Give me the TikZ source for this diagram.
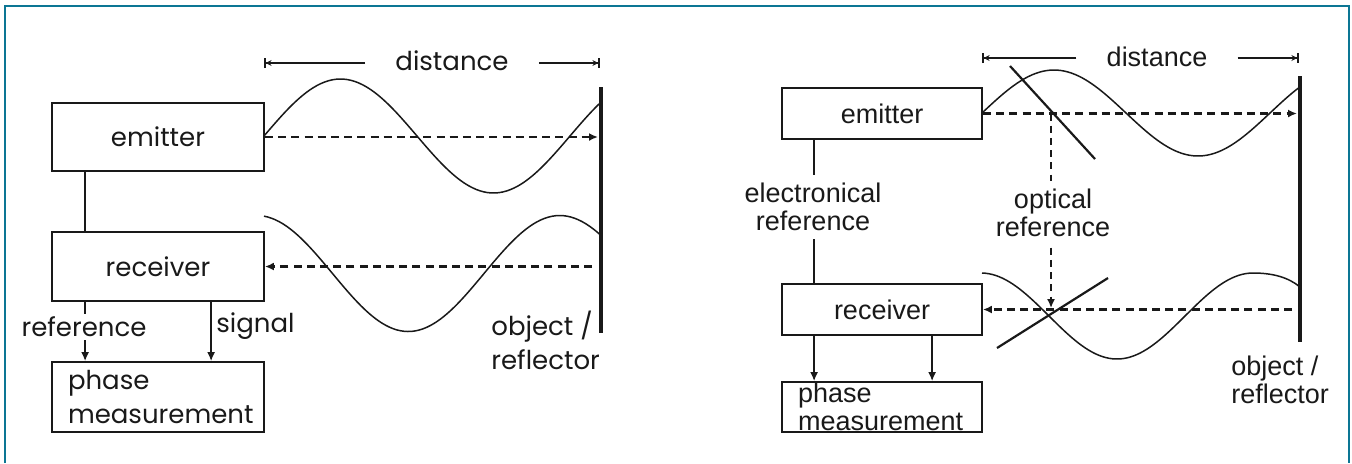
\documentclass[tikz,border=0pt]{standalone}
\usepackage{fontspec}
\setmainfont{Liberation Sans}
\newfontfamily\lfont{Poppins}
\usetikzlibrary{arrows.meta}
\definecolor{frameteal}{RGB}{12,118,148}
\definecolor{ink}{RGB}{25,25,25}
\begin{document}
\begin{tikzpicture}[x=0.5pt,y=-0.5pt,
  box/.style={draw=ink, line width=0.9pt, inner sep=0pt},
  wave/.style={draw=ink, line width=0.75pt},
  conn/.style={draw=ink, line width=0.8pt},
  beam/.style={draw=ink, line width=1.1pt, dash pattern=on 4pt off 2.6pt},
  obeam/.style={draw=ink, line width=0.8pt, dash pattern=on 3.5pt off 2.6pt},
  tip/.style={-{Latex[length=4.5pt,width=4pt]}},
  dimtip/.style={draw=ink, line width=0.8pt, -{Stealth[length=3pt,width=3pt]Bar[width=5pt]}},
  refl/.style={draw=ink, line width=2.2pt},
  splitter/.style={draw=ink, line width=1.1pt},
  lt/.style={font=\lfont\fontsize{13pt}{17pt}\selectfont, text=ink},
  rt/.style={font=\fontsize{13.5pt}{14pt}\selectfont, text=ink},
  lab/.style={fill=white, inner sep=1.5pt}
]
\useasboundingbox (0,0) rectangle (1352,463);
\draw[frameteal, line width=1pt] (5,463) -- (5,6) -- (1348.5,6) -- (1348.5,463);

% ---------------- left panel ----------------
\node[box, lt, minimum width=106pt, minimum height=34pt] (emL) at (158,137) {emitter};
\node[box, lt, minimum width=106pt, minimum height=34.5pt] (recL) at (158,266.5) {receiver};
\node[box, lt, minimum width=106pt, minimum height=35pt, align=left, text width=90pt] (phL) at (158,397) {phase\\measurement};

\draw[conn] ([xshift=17pt]emL.south west) -- ([xshift=17pt]recL.north west);
\draw[conn, tip] ([xshift=17pt]recL.south west) -- ([xshift=17pt]phL.north west);
\node[lt, lab] (refL) at (84,327) {reference};
\draw[conn, tip] ([xshift=80pt]recL.south west) -- ([xshift=80pt]phL.north west);
\node[lt, anchor=west, inner sep=0pt] (sigL) at (216,326) {signal};

\coordinate (rtL) at (601,87);
\coordinate (rbL) at (601,333);
\draw[refl] (rtL) -- (rbL);
\node[lt, anchor=north west, align=left, inner sep=0pt] (objL) at (491,311) {object /\\reflector};

\node[lt, inner xsep=15pt] (distL) at (452,61) {distance};
\coordinate (dlL) at (264,63);
\coordinate (drL) at (600,63);
\draw[dimtip] (distL.west |- dlL) -- (dlL);
\draw[dimtip] (distL.east |- drL) -- (drL);

\draw[wave] plot[domain=264:601, samples=90, smooth] (\x, {136-57*sin(360/306*(\x-264))});
\draw[wave] plot[domain=264:601, samples=90, smooth] (\x, {273.5+58*sin(360/303*(\x-332.5))});

\coordinate (hitL) at (598,137);
\draw[beam, tip] (emL.east) -- (hitL);
\coordinate (srcL) at (592,266.5);
\draw[beam, tip] (srcL) -- (recL.east);

% ---------------- right panel ----------------
\node[box, rt, minimum width=100pt, minimum height=25.5pt] (emR) at (882,113.5) {emitter};
\node[box, rt, minimum width=100pt, minimum height=25.5pt] (recR) at (882,309.5) {receiver};
\node[box, rt, minimum width=100pt, minimum height=25pt, align=left, text width=84pt] (phR) at (882,407) {phase\\measurement};

\draw[conn] ([xshift=16.5pt]emR.south west) -- ([xshift=16.5pt]recR.north west);
\node[rt, lab, align=center, inner ysep=4pt] (elR) at (813,207) {electronical\\reference};
\draw[conn, tip] ([xshift=16.5pt]recR.south west) -- ([xshift=16.5pt]phR.north west);
\draw[conn, tip] ([xshift=75.5pt]recR.south west) -- ([xshift=75.5pt]phR.north west);

\coordinate (rtR) at (1300,76);
\coordinate (rbR) at (1300,342);
\draw[refl] (rtR) -- (rbR);
\node[rt, anchor=north west, align=left, inner sep=0pt] (objR) at (1231,356) {object /\\reflector};

\node[rt, inner xsep=15pt] (distR) at (1157,57) {distance};
\coordinate (dlR) at (982,58);
\coordinate (drR) at (1299,58);
\draw[dimtip] (distR.west |- dlR) -- (dlR);
\draw[dimtip] (distR.east |- drR) -- (drR);

\draw[wave] plot[domain=982:1300, samples=90, smooth] (\x, {113-43*sin(360/288*(\x-982))});
\coordinate (wEndR) at (1300,287);
\draw[wave] plot[domain=982:1253, samples=80, smooth] (\x, {316+43*sin(360/272*(\x-1117)+90)})
  .. controls (1272,273) and (1288,277) .. (wEndR);

\coordinate (hitR) at (1297,113.5);
\draw[beam, tip] (emR.east) -- (hitR);
\coordinate (srcR) at (1292,309.5);
\draw[beam, tip] (srcR) -- (recR.east);

\coordinate (oTop) at (1051,113.5);
\coordinate (oBot) at (1051,308);
\draw[obeam, tip] (oTop) -- (oBot);
\node[rt, lab, align=center, inner ysep=4pt] (opR) at (1053,213) {optical\\reference};

\coordinate (s1a) at (1010,66);
\coordinate (s1b) at (1095,159);
\coordinate (s2a) at (997,348);
\coordinate (s2b) at (1108,278);
\draw[splitter] (s1a) -- (s1b);
\draw[splitter] (s2a) -- (s2b);
\end{tikzpicture}
\end{document}
